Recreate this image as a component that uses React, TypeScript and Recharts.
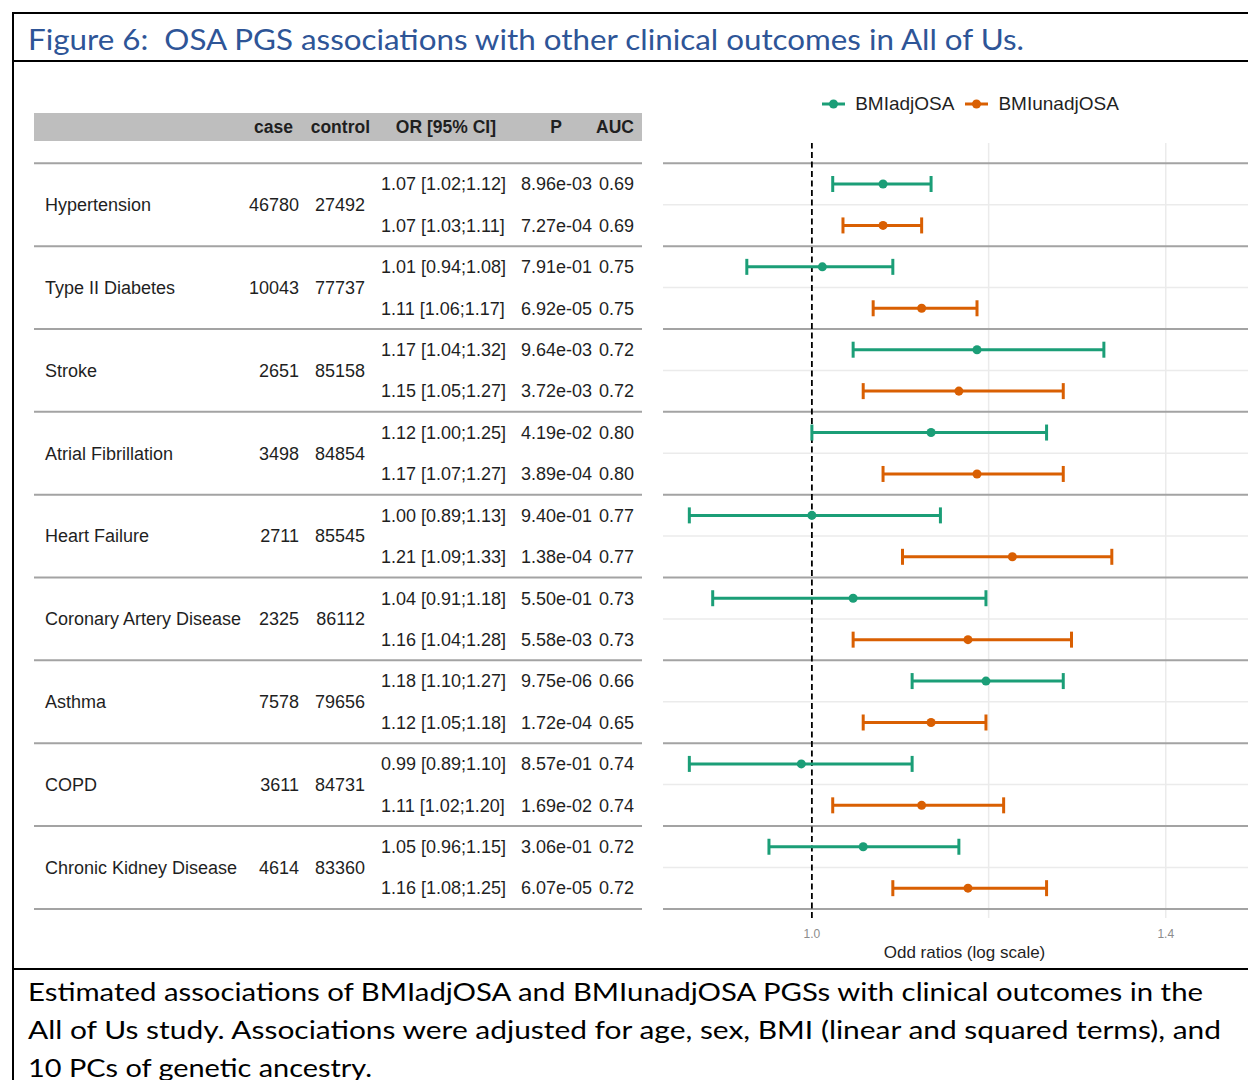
import React from 'react'
import {
  ComposedChart, Scatter, ErrorBar, XAxis, YAxis, ReferenceLine, Legend,
} from 'recharts'

const outcomes = [
  'Hypertension', 'Type II Diabetes', 'Stroke', 'Atrial Fibrillation', 'Heart Failure',
  'Coronary Artery Disease', 'Asthma', 'COPD', 'Chronic Kidney Disease',
]
const cases = [46780, 10043, 2651, 3498, 2711, 2325, 7578, 3611, 4614]
const controls = [27492, 77737, 85158, 84854, 85545, 86112, 79656, 84731, 83360]

// BMIadjOSA
const adjOR = [1.07, 1.01, 1.17, 1.12, 1.00, 1.04, 1.18, 0.99, 1.05]
const adjLo = [1.02, 0.94, 1.04, 1.00, 0.89, 0.91, 1.10, 0.89, 0.96]
const adjHi = [1.12, 1.08, 1.32, 1.25, 1.13, 1.18, 1.27, 1.10, 1.15]
const adjP = ['8.96e-03', '7.91e-01', '9.64e-03', '4.19e-02', '9.40e-01', '5.50e-01', '9.75e-06', '8.57e-01', '3.06e-01']
const adjAUC = [0.69, 0.75, 0.72, 0.80, 0.77, 0.73, 0.66, 0.74, 0.72]

// BMIunadjOSA
const unadjOR = [1.07, 1.11, 1.15, 1.17, 1.21, 1.16, 1.12, 1.11, 1.16]
const unadjLo = [1.03, 1.06, 1.05, 1.07, 1.09, 1.04, 1.05, 1.02, 1.08]
const unadjHi = [1.11, 1.17, 1.27, 1.27, 1.33, 1.28, 1.18, 1.20, 1.25]
const unadjP = ['7.27e-04', '6.92e-05', '3.72e-03', '3.89e-04', '1.38e-04', '5.58e-03', '1.72e-04', '1.69e-02', '6.07e-05']
const unadjAUC = [0.69, 0.75, 0.72, 0.80, 0.77, 0.73, 0.65, 0.74, 0.72]

const xTicks = [1.0, 1.4]
const xGridLines = [1.183, 1.4]

const captionLines = [
  'Estimated associations of BMIadjOSA and BMIunadjOSA PGSs with clinical outcomes in the',
  'All of Us study. Associations were adjusted for age, sex, BMI (linear and squared terms), and',
  '10 PCs of genetic ancestry.',
]
const title = 'Figure 6:  OSA PGS associations with other clinical outcomes in All of Us.'

const GREEN = '#1b9e77'
const ORANGE = '#d95f02'
const TEXT = '#1f1f1f'
const SANS = '"Liberation Sans", Arial, sans-serif'
const WORD = 'Lato, "Open Sans", sans-serif'

const fmt = (v: number) => v.toFixed(2)

const adjData = outcomes.map((_, i) => ({
  row: 2 * i, or: adjOR[i], err: [adjOR[i] - adjLo[i], adjHi[i] - adjOR[i]],
}))
const unadjData = outcomes.map((_, i) => ({
  row: 2 * i + 1, or: unadjOR[i], err: [unadjOR[i] - unadjLo[i], unadjHi[i] - unadjOR[i]],
}))

// one text row per estimate, in plotting order
const tableRows = outcomes.flatMap((_, i) => [
  { ci: `${fmt(adjOR[i])} [${fmt(adjLo[i])};${fmt(adjHi[i])}]`, p: adjP[i], auc: fmt(adjAUC[i]) },
  { ci: `${fmt(unadjOR[i])} [${fmt(unadjLo[i])};${fmt(unadjHi[i])}]`, p: unadjP[i], auc: fmt(unadjAUC[i]) },
])

// every half step: group borders, rows, group centres
const yTicks = [-0.5, ...outcomes.flatMap((_, i) => [2 * i, 2 * i + 0.5, 2 * i + 1, 2 * i + 1.5])]
const groupLines = [-0.5, ...outcomes.map((_, i) => 2 * i + 1.5)]
const innerLines = outcomes.map((_, i) => 2 * i + 0.5)

const TableTick = (props: any) => {
  const { y, payload } = props
  const v = payload.value
  const common = { fontFamily: SANS, fontSize: 18, fill: TEXT, dy: '0.35em' }
  if (Number.isInteger(v)) {
    const r = tableRows[v]
    return (
      <g>
        <text x={381} y={y} textAnchor="start" {...common}>{r.ci}</text>
        <text x={592} y={y} textAnchor="end" {...common}>{r.p}</text>
        <text x={634} y={y} textAnchor="end" {...common}>{r.auc}</text>
      </g>
    )
  }
  const k = (v - 0.5) / 2
  if (Number.isInteger(k)) {
    return (
      <g>
        <text x={45} y={y} textAnchor="start" {...common}>{outcomes[k]}</text>
        <text x={299} y={y} textAnchor="end" {...common}>{cases[k]}</text>
        <text x={365} y={y} textAnchor="end" {...common}>{controls[k]}</text>
      </g>
    )
  }
  return <line x1={34} x2={642} y1={y} y2={y} stroke="#a3a3a3" strokeWidth={2} />
}

const LegendContent = ({ payload }: any) => (
  <div style={{ display: 'flex', justifyContent: 'center', alignItems: 'center', fontFamily: SANS, fontSize: 19, color: TEXT }}>
    {(payload || []).map((p: any, i: number) => (
      <div key={p.value} style={{ display: 'flex', alignItems: 'center', marginLeft: i ? 11 : 0 }}>
        <svg width={23} height={12} style={{ marginRight: 10 }}>
          <line x1={0} x2={23} y1={6} y2={6} stroke={p.color} strokeWidth={3} />
          <circle cx={11.5} cy={6} r={4.5} fill={p.color} />
        </svg>
        <span>{p.value}</span>
      </div>
    ))}
  </div>
)

export default function App() {
  return (
    <div style={{ position: 'absolute', left: 0, top: 0, width: 1248, height: 1080, overflow: 'hidden', background: '#fff' }}>
      <svg width={1248} height={1080} style={{ position: 'absolute', left: 0, top: 0 }}>
        <line x1={12} x2={1248} y1={13} y2={13} stroke="#000" strokeWidth={2} />
        <line x1={13} x2={13} y1={12} y2={1080} stroke="#000" strokeWidth={2} />
        <line x1={12} x2={1248} y1={61} y2={61} stroke="#000" strokeWidth={2} />
        <line x1={12} x2={1248} y1={969} y2={969} stroke="#000" strokeWidth={2} />
        <text x={28} y={50} fontFamily={WORD} fontSize={28} fill="#2e5597" xmlSpace="preserve"
          style={{ whiteSpace: 'pre' }} textLength={996} lengthAdjust="spacingAndGlyphs">{title}</text>
        {captionLines.map((line, i) => (
          <text key={i} x={28} y={1001 + i * 38} fontFamily={WORD} fontSize={24.5} fill="#000"
            textLength={[1175, 1193, 344][i]} lengthAdjust="spacingAndGlyphs">{line}</text>
        ))}
        <rect x={34} y={113} width={608} height={28} fill="#bebebe" />
        <g fontFamily={SANS} fontSize={17.5} fontWeight="bold" fill={TEXT} textAnchor="end">
          <text x={293} y={127} dy="0.35em">case</text>
          <text x={370} y={127} dy="0.35em">control</text>
          <text x={496} y={127} dy="0.35em">OR [95% CI]</text>
          <text x={562} y={127} dy="0.35em">P</text>
          <text x={634} y={127} dy="0.35em">AUC</text>
        </g>
      </svg>
      <div style={{ position: 'absolute', left: 0, top: 0 }}>
        <ComposedChart width={1266} height={968} margin={{ top: 143, right: 0, bottom: 0, left: 0 }}>
          <XAxis
            type="number" dataKey="or" scale="log" domain={[0.868, 1.54]} allowDataOverflow
            ticks={xTicks} tickFormatter={(v: number) => v.toFixed(1)}
            tick={{ fontSize: 12, fill: '#8c8c8c', fontFamily: SANS }}
            tickLine={false} axisLine={false} height={50} tickMargin={5}
            label={{ value: 'Odd ratios (log scale)', position: 'insideBottom', offset: 10, fill: TEXT, fontSize: 17, fontFamily: SANS }}
          />
          <YAxis
            type="number" dataKey="row" domain={[-0.99, 17.72]} reversed allowDataOverflow
            ticks={yTicks} interval={0} width={663} tickLine={false} axisLine={false}
            tick={(p: any) => <TableTick {...p} />}
          />
          {xGridLines.map(x => (
            <ReferenceLine key={`vx${x}`} x={x} stroke="#ebebeb" strokeWidth={1.5} />
          ))}
          {innerLines.map(y => (
            <ReferenceLine key={`in${y}`} y={y} stroke="#ebebeb" strokeWidth={1.5} />
          ))}
          {groupLines.map(y => (
            <ReferenceLine key={`gr${y}`} y={y} stroke="#a3a3a3" strokeWidth={2} />
          ))}
          <ReferenceLine x={1} stroke="#000" strokeWidth={1.8} strokeDasharray="6 3.5" />
          <Legend
            layout="vertical" align="center" verticalAlign="middle"
            wrapperStyle={{ top: 93, left: 669, width: 603 }}
            content={<LegendContent />}
          />
          <Scatter name="BMIadjOSA" data={adjData} fill={GREEN} isAnimationActive={false}>
            <ErrorBar dataKey="err" direction="x" width={8} strokeWidth={3} stroke={GREEN} isAnimationActive={false} />
          </Scatter>
          <Scatter name="BMIunadjOSA" data={unadjData} fill={ORANGE} isAnimationActive={false}>
            <ErrorBar dataKey="err" direction="x" width={8} strokeWidth={3} stroke={ORANGE} isAnimationActive={false} />
          </Scatter>
        </ComposedChart>
      </div>
    </div>
  )
}
